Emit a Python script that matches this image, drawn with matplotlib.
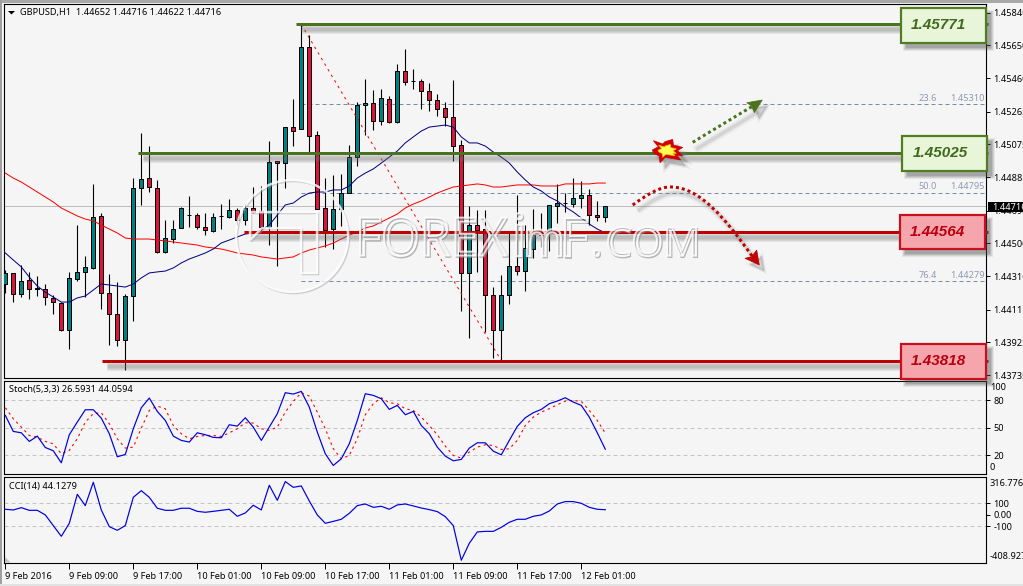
import matplotlib
matplotlib.use("Agg")
import matplotlib.pyplot as plt
from matplotlib.patches import Rectangle, Polygon, PathPatch, Circle
from matplotlib.path import Path
from matplotlib.textpath import TextPath
from matplotlib.font_manager import FontProperties
from matplotlib.transforms import Affine2D, offset_copy

# ---- hourly GBPUSD bars -------------------------------------------------
opens = [
    1.44264, 1.44328, 1.44206, 1.44287, 1.44241, 1.44235, 1.44183, 1.44154, 1.43997, 1.44293,
    1.44334, 1.44357, 1.44659, 1.44212, 1.44090, 1.43939, 1.44194, 1.44821, 1.44879, 1.44821,
    1.44450, 1.44525, 1.44589, 1.44664, 1.44664, 1.44595, 1.44572, 1.44659, 1.44653, 1.44694,
    1.44635, 1.44705, 1.44688, 1.44595, 1.44978, 1.44966, 1.45175, 1.45164, 1.45640, 1.45129,
    1.44705, 1.44583, 1.44699, 1.44792, 1.45001, 1.45303, 1.45315, 1.45210, 1.45338, 1.45205,
    1.45501, 1.45443, 1.45443, 1.45385, 1.45332, 1.45286, 1.45234, 1.45071, 1.44328, 1.44606,
    1.44583, 1.44200, 1.43997, 1.44200, 1.44368, 1.44339, 1.44467, 1.44548, 1.44560, 1.44717,
    1.44734, 1.44728, 1.44763, 1.44781, 1.44664, 1.44652,
]
highs = [
    1.44345, 1.44328, 1.44374, 1.44334, 1.44310, 1.44264, 1.44200, 1.44159, 1.44334, 1.44606,
    1.44426, 1.44845, 1.44676, 1.44322, 1.44276, 1.44206, 1.44879, 1.45141, 1.45065, 1.44868,
    1.44635, 1.44635, 1.44711, 1.44775, 1.44676, 1.44676, 1.44676, 1.44728, 1.44757, 1.44705,
    1.44728, 1.44827, 1.44833, 1.45094, 1.44978, 1.45175, 1.45338, 1.45768, 1.45710, 1.45152,
    1.44879, 1.44897, 1.44903, 1.45071, 1.45321, 1.45454, 1.45390, 1.45396, 1.45356, 1.45541,
    1.45628, 1.45512, 1.45454, 1.45431, 1.45367, 1.45321, 1.45448, 1.45100, 1.44717, 1.44694,
    1.44694, 1.44246, 1.44316, 1.44572, 1.44781, 1.44606, 1.44699, 1.44676, 1.44723, 1.44845,
    1.44792, 1.44879, 1.44862, 1.44816, 1.44746, 1.44716,
]
lows = [
    1.44212, 1.44159, 1.44188, 1.44177, 1.44194, 1.44142, 1.44090, 1.43991, 1.43887, 1.44281,
    1.44188, 1.44351, 1.44119, 1.43910, 1.43904, 1.43764, 1.44049, 1.44723, 1.44798, 1.44444,
    1.44444, 1.44502, 1.44589, 1.44595, 1.44583, 1.44548, 1.44566, 1.44583, 1.44647, 1.44606,
    1.44606, 1.44676, 1.44566, 1.44490, 1.44368, 1.44821, 1.45065, 1.45164, 1.45030, 1.44699,
    1.44479, 1.44467, 1.44601, 1.44792, 1.44949, 1.45129, 1.45158, 1.45187, 1.45199, 1.45199,
    1.45419, 1.45396, 1.45280, 1.45268, 1.45239, 1.45181, 1.44978, 1.44107, 1.43950, 1.44334,
    1.43985, 1.43834, 1.43811, 1.44148, 1.44316, 1.44223, 1.44415, 1.44479, 1.44456, 1.44618,
    1.44682, 1.44711, 1.44705, 1.44606, 1.44629, 1.44622,
]
closes = [
    1.44328, 1.44206, 1.44281, 1.44235, 1.44235, 1.44188, 1.44159, 1.43997, 1.44299, 1.44334,
    1.44363, 1.44653, 1.44212, 1.44090, 1.43939, 1.44194, 1.44821, 1.44874, 1.44827, 1.44450,
    1.44531, 1.44583, 1.44705, 1.44664, 1.44595, 1.44577, 1.44653, 1.44659, 1.44694, 1.44635,
    1.44705, 1.44682, 1.44595, 1.44972, 1.44966, 1.45175, 1.45152, 1.45640, 1.45123, 1.44699,
    1.44577, 1.44699, 1.44792, 1.45001, 1.45303, 1.45315, 1.45210, 1.45344, 1.45205, 1.45501,
    1.45437, 1.45443, 1.45385, 1.45332, 1.45280, 1.45234, 1.45065, 1.44328, 1.44606, 1.44577,
    1.44200, 1.43997, 1.44200, 1.44368, 1.44339, 1.44473, 1.44548, 1.44548, 1.44723, 1.44734,
    1.44734, 1.44763, 1.44781, 1.44664, 1.44653, 1.44716,
]

# moving averages on the price pane
ma_fast = [
    1.44444, 1.44403, 1.44363, 1.44304, 1.44252, 1.44217, 1.44188, 1.44159, 1.44159, 1.44183,
    1.44194, 1.44229, 1.44264, 1.44258, 1.44252, 1.44246, 1.44264, 1.44299, 1.44328, 1.44334,
    1.44339, 1.44357, 1.44386, 1.44409, 1.44426, 1.44444, 1.44467, 1.44502, 1.44519, 1.44537,
    1.44554, 1.44560, 1.44577, 1.44606, 1.44664, 1.44723, 1.44734, 1.44769, 1.44792, 1.44798,
    1.44798, 1.44810, 1.44810, 1.44833, 1.44879, 1.44908, 1.44932, 1.44966, 1.45001, 1.45036,
    1.45083, 1.45118, 1.45152, 1.45175, 1.45181, 1.45187, 1.45175, 1.45118, 1.45083, 1.45083,
    1.45065, 1.45030, 1.45001, 1.44966, 1.44914, 1.44868, 1.44827, 1.44804, 1.44769, 1.44746,
    1.44711, 1.44682, 1.44647, 1.44612, 1.44583, 1.44560,
]
ma_slow = [
    1.44908, 1.44879, 1.44856, 1.44827, 1.44798, 1.44769, 1.44740, 1.44705, 1.44682, 1.44659,
    1.44641, 1.44630, 1.44606, 1.44583, 1.44560, 1.44531, 1.44525, 1.44525, 1.44525, 1.44519,
    1.44514, 1.44508, 1.44502, 1.44496, 1.44490, 1.44479, 1.44473, 1.44467, 1.44456, 1.44444,
    1.44438, 1.44432, 1.44421, 1.44415, 1.44409, 1.44415, 1.44421, 1.44444, 1.44461, 1.44473,
    1.44485, 1.44502, 1.44525, 1.44548, 1.44566, 1.44589, 1.44601, 1.44624, 1.44647, 1.44670,
    1.44705, 1.44728, 1.44746, 1.44769, 1.44792, 1.44810, 1.44827, 1.44833, 1.44839, 1.44845,
    1.44839, 1.44827, 1.44827, 1.44833, 1.44839, 1.44839, 1.44839, 1.44833, 1.44833, 1.44833,
    1.44845, 1.44845, 1.44845, 1.44845, 1.44850, 1.44850,
]

# stochastic oscillator
stoch_main = [
    63.5, 46, 44.5, 35.1, 40.9, 28.5, 24.9, 11.8, 42.4, 56.2,
    69.6, 69.6, 60.5, 43.5, 18.4, 20.9, 48.9, 71.8, 82.4, 67.8,
    58, 40.9, 36.2, 34.4, 44.5, 42.4, 39.5, 39.1, 53.3, 51.8,
    60.9, 50.7, 36.2, 50.7, 65.3, 88.2, 86.7, 89.6, 72.5,
    45.3, 21.6, 8.9, 16.2, 32.5, 58, 87.1, 85.3, 81.6, 70,
    74.4, 64.2, 67.8, 52.5, 43.5, 28.9, 19.1, 14, 15.5, 27.8,
    33.6, 33.6, 24.5, 20.5, 36.2, 51.5, 60.9, 66.4, 70, 76.2,
    79.1, 82.7, 78, 74.4, 61.6, 44.5, 26.5931,
]
stoch_signal = [
    71.8, 59.8, 50.7, 41.6, 39.8, 35.1, 32.5, 21.6, 25.3, 38,
    56.2, 65.3, 66.4, 54.4, 38, 27.8, 28.9, 49.6, 68.9, 73.6,
    70.7, 52.5, 43.5, 38, 40.5, 41.6, 41.6, 40.5, 44.5, 48.9,
    55.5, 55.1, 48.9, 47.1, 50.7, 67.1, 78.7, 88.2, 84.5,
    67.1, 48.9, 27.1, 16.2, 19.8, 38, 64.2, 76.2, 82.7, 77.3,
    76.2, 70.7, 68.9, 61.6, 52.5, 42.4, 30, 19.8, 16.9, 23.5,
    28.9, 31.5, 30.7, 26.4, 27.1, 36.2, 52.5, 61.6, 67.1, 70.7,
    75.1, 79.1, 79.8, 78.7, 68.9, 58, 44.0594,
]

# commodity channel index
cci = [
    48, 42, 62, 39, 39, -1, -94, -187, -74, 178,
    80, 283, 42, -103, -135, -94, 152, 210, 152, 57,
    39, 39, 57, 57, 30, 22, 30, 39, 48, -13,
    16, 83, 42, 257, 126, 289, 239, 251, 120,
    -1, -74, -57, -39, 13, 80, 94, 65, 74, 48,
    86, 94, 77, 59, 45, 28, -16, -94, -395, -248,
    -149, -144, -144, -109, -65, -39, -39, -13, -1, 33,
    94, 115, 115, 100, 65, 48, 44.1279,
]

# support / resistance levels: (price, first bar of the line)
resistance_levels = [(1.45771, 36.3), (1.45025, 16.6)]
support_levels = [(1.44564, 29.8), (1.43818, 12.1)]

# fibonacci retracement drawn from the swing high to the swing low
swing_bars = [37, 62]
swing_prices = [1.45771, 1.43818]
fib_ratios = ["23.6", "50.0", "76.4"]
fib_prices = [1.45310, 1.44795, 1.44279]

price_ticks = [1.45840, 1.45650, 1.45460, 1.45265, 1.45075, 1.44885, 1.44690,
               1.44500, 1.44310, 1.44115, 1.43925, 1.43735]
last_price = 1.44716

date_bars = list(range(0, 73, 8))
date_labels = ["9 Feb 2016", "9 Feb 09:00", "9 Feb 17:00", "10 Feb 01:00", "10 Feb 09:00",
               "10 Feb 17:00", "11 Feb 01:00", "11 Feb 09:00", "11 Feb 17:00", "12 Feb 01:00"]

# ---- styling ------------------------------------------------------------
W, H = 1023, 586
BG = "#f5f5f5"
BULL = "#008080"
BEAR = "#dc143c"
GREEN = "#4a731f"
RED = "#c00000"
FIB = "#7c8ca8"
GRID = "#c4c4c4"
PX = 0.72  # one pixel in points at 100 dpi
UI_SIZE = 6.6

plt.rcParams["font.family"] = ["Noto Sans", "DejaVu Sans"]
plt.rcParams["font.size"] = UI_SIZE

fig = plt.figure(figsize=(W / 100, H / 100), dpi=100, facecolor=BG)


def pane(top, bottom, left=4.0, right=986.0):
    ax = fig.add_axes([left / W, 1 - bottom / H, (right - left) / W, (bottom - top) / H])
    ax.set_facecolor(BG)
    ax.set_xlim(-0.1625, 122.59)
    for s in ax.spines.values():
        s.set_linewidth(PX * 1.1)
        s.set_color("black")
    ax.yaxis.tick_right()
    ax.tick_params(axis="x", bottom=False, labelbottom=False)
    ax.tick_params(axis="y", length=3, width=PX, pad=2.5, labelsize=UI_SIZE, colors="black")
    return ax


bars = list(range(len(closes)))

# ---- price pane ---------------------------------------------------------
ax = pane(4, 378.3)
ax.set_ylim(1.437162, 1.458898)
ax.set_yticks(price_ticks)
ax.set_yticklabels([f"{p:.5f}" for p in price_ticks])

ax.axhline(last_price, color="#bdbdbd", lw=PX, zorder=1)
for price in fib_prices:
    ax.plot([swing_bars[0], 122.3], [price, price], color=FIB, lw=PX,
            ls=(0, (4, 3)), zorder=1.5)

for i, (o, h, l, c) in enumerate(zip(opens, highs, lows, closes)):
    ax.vlines(i, l, h, color="black", lw=PX * 1.1, zorder=2)
ax.bar(bars, [c - o for o, c in zip(opens, closes)], bottom=opens, width=0.52,
       color=[BULL if c > o else BEAR for o, c in zip(opens, closes)],
       edgecolor="black", linewidth=PX, zorder=3)

ax.plot(bars, ma_slow, color="#ff0000", lw=PX, zorder=4)
ax.plot(bars, ma_fast, color="#000080", lw=PX, zorder=4)
ax.plot(swing_bars, swing_prices, color="#ff0000", lw=PX, ls=(0, (2.5, 4)), zorder=4)

# level lines with a soft drop shadow underneath
shadow = offset_copy(ax.transData, fig=fig, x=5, y=-5, units="dots")
for levels, colour in ((resistance_levels, GREEN), (support_levels, RED)):
    for price, start in levels:
        for width in (9, 7, 5, 3):
            ax.plot([start, 122.4], [price, price], color="#6e6e6e", alpha=0.12,
                    lw=width * PX, transform=shadow, solid_capstyle="butt", zorder=5)
        ax.plot([start, 122.9], [price, price], color=colour, lw=3 * PX,
                solid_capstyle="butt", zorder=6, clip_on=False)

# ---- stochastic pane ----------------------------------------------------
ax_st = pane(380.5, 474)
ax_st.set_ylim(-0.4, 101.5)
ax_st.set_yticks([80, 50, 20])
ax_st.set_yticklabels(["80", "50", "20"])
for level in (80, 50, 20):
    ax_st.axhline(level, color=GRID, lw=PX, ls=(0, (4, 3)), zorder=1)
ax_st.plot(bars, stoch_signal, color="#ff0000", lw=PX * 1.1, ls=(0, (2.2, 3.2)), zorder=2)
ax_st.plot(bars, stoch_main, color="#0000e0", lw=PX * 1.2, zorder=3)

# ---- CCI pane -----------------------------------------------------------
ax_cc = pane(476.8, 563.3)
ax_cc.set_ylim(-421.7, 330.4)
ax_cc.set_yticks([100, 0, -100])
ax_cc.set_yticklabels(["100", "0.00", "-100"])
for level in (100, -100):
    ax_cc.axhline(level, color=GRID, lw=PX, ls=(0, (4, 3)), zorder=1)
ax_cc.plot(bars, cci, color="#0000e0", lw=PX * 1.2, zorder=3)
ax_cc.set_xticks(date_bars)
ax_cc.set_xticklabels(date_labels, ha="left")
ax_cc.tick_params(axis="x", bottom=True, labelbottom=True, length=4, width=PX, pad=2,
                  labelsize=UI_SIZE)

# ---- annotation layer in figure pixels ----------------------------------
deco = fig.add_axes([0, 0, 1, 1], zorder=10)
deco.set_xlim(0, W)
deco.set_ylim(H, 0)
deco.axis("off")
deco.patch.set_alpha(0)

# window edge
deco.add_patch(Rectangle((0, 0), W, 2.5, color="#a8a8a8", lw=0))
deco.add_patch(Rectangle((0, 0), 2, H, color="#a0a0a0", lw=0))
deco.add_patch(Rectangle((0, H - 2), W, 2, color="#e2e2e2", lw=0))


def stretched_text(word, x0, x1, y0, y1, dx=0.0, dy=0.0, **style):
    path = TextPath((0, 0), word, size=40, prop=FontProperties(family="Open Sans"))
    box = path.get_extents()
    sx = (x1 - x0) / box.width
    sy = (y1 - y0) / box.height
    tr = Affine2D().translate(-box.x0, -box.y0).scale(sx, -sy).translate(x0 + dx, y1 + dy)
    deco.add_patch(PathPatch(tr.transform_path(path), **style))


# watermark: roundel plus the site name, white with a grey edge
roundel = (292, 236)
for off, col, lw_px, a in ((1.5, "#9c9c9c", 1.6, 0.45), (0, "#ffffff", 2.4, 0.8)):
    deco.add_patch(Circle((roundel[0] + off, roundel[1] + off), 56, fill=False,
                          ec=col, lw=lw_px * PX, alpha=a))
    shape = [(250, 212), (317, 212), (317, 273), (301, 273), (301, 228), (262, 228), (250, 240)]
    deco.add_patch(Polygon([(x + off, y + off) for x, y in shape], closed=True, fill=False,
                           ec=col, lw=lw_px * PX, alpha=a))
watermark = [("FOREX", 360, 507, 217, 256), ("i", 516, 522, 213, 256), ("m", 527, 561, 229, 256),
             ("F", 565, 587, 218, 256), (".", 594, 599, 250, 256), ("COM", 608, 696, 227, 256)]
for word, x0, x1, y0, y1 in watermark:
    stretched_text(word, x0, x1, y0, y1, dx=1.2, dy=1.5, fc="none", ec="#8e8e8e",
                   lw=1.8 * PX, alpha=0.6)
    stretched_text(word, x0, x1, y0, y1, fc="none", ec="#ffffff", lw=2.0 * PX, alpha=0.8)

# arrows
green_tail = [(692.7, 142.3), (752, 106.5)]
green_head = [(762.3, 100), (746.7, 102.7), (751.7, 106), (754.3, 112.7)]
red_curve = Path(
    [(632.7, 205), (645, 196), (660, 186), (672, 187), (700, 188), (725, 218), (752, 256)],
    [Path.MOVETO, Path.CURVE4, Path.CURVE4, Path.CURVE4, Path.CURVE4, Path.CURVE4, Path.CURVE4],
)
red_head = [(759.3, 265), (745, 258.3), (751.7, 256.7), (756.7, 250)]


def offset_points(pts, dx, dy):
    return [(x + dx, y + dy) for x, y in pts]


for width, alpha in ((8, 0.06), (5, 0.09), (3, 0.12)):
    deco.plot(*zip(*offset_points(green_tail, 5, 6)), color="#707070", lw=width * PX, alpha=alpha)
    deco.add_patch(PathPatch(red_curve.transformed(Affine2D().translate(5, 6)), fc="none",
                             ec="#707070", lw=width * PX, alpha=alpha))
    deco.add_patch(Polygon(offset_points(green_head, 5, 6), fc="#707070", ec="#707070",
                           lw=width * PX * 0.5, alpha=alpha))
    deco.add_patch(Polygon(offset_points(red_head, 5, 6), fc="#707070", ec="#707070",
                           lw=width * PX * 0.5, alpha=alpha))
deco.plot(*zip(*green_tail), color=GREEN, lw=3 * PX, ls=(0, (1, 1)))
deco.add_patch(Polygon(green_head, fc=GREEN, ec=GREEN, lw=0.5))
deco.add_patch(PathPatch(red_curve, fc="none", ec=RED, lw=3 * PX, ls=(0, (1, 1))))
deco.add_patch(Polygon(red_head, fc=RED, ec=RED, lw=0.5))

# breakout burst on the resistance line
burst_centre = (666.7, 150.7)
burst = [(-14.3, -0.7), (-8.3, -4), (-13.3, -10), (-4, -6.7), (-1.7, -9), (6, -11.3), (6.7, -5.7),
         (16, -3.3), (10.7, 0), (16, 5.3), (10, 4.3), (14, 9.3), (5, 7.7), (-1.7, 6.7),
         (-6.7, 12), (-7.3, 5.3), (-13.3, 2)]
for grow, alpha in ((2, 0.1), (1, 0.12), (0, 0.16)):
    deco.add_patch(Polygon([(burst_centre[0] + x + 5, burst_centre[1] + y + 6) for x, y in burst],
                           fc="#707070", ec="#707070", lw=grow * 2 * PX, alpha=alpha))
deco.add_patch(Polygon([(burst_centre[0] + x, burst_centre[1] + y) for x, y in burst],
                       fc="#d40000", ec="#c00000", lw=0.5))
deco.add_patch(Polygon([(burst_centre[0] + 0.6 * x, burst_centre[1] + 0.55 * y) for x, y in burst],
                       fc="#ffff55", ec="#f5c000", lw=0.5))

# value boxes at the end of each level line
boxes = [
    ("1.45771", 901, 986, 8.3, 42.7, "#e8f5d9", "#4f7d22", "#3f6a1c", 938.5, 25.0),
    ("1.45025", 902, 986.7, 136, 171, "#e8f5d9", "#4f7d22", "#3f6a1c", 940, 152.7),
    ("1.44564", 900, 985, 215, 249.3, "#f5a6ad", "#c8101c", "#b8000f", 937.7, 232.3),
    ("1.43818", 901, 986, 344.3, 378.7, "#f5a6ad", "#c8101c", "#b8000f", 938.5, 361),
]
for label, x0, x1, y0, y1, fill, edge, ink, tx, ty in boxes:
    for grow, alpha in ((3, 0.1), (2, 0.13), (1, 0.16), (0, 0.2)):
        deco.add_patch(Rectangle((x0 + 5 - grow, y0 + 5 - grow), x1 - x0 + 2 * grow,
                                 y1 - y0 + 2 * grow, fc="#505050", ec="none", alpha=alpha))
    deco.add_patch(Rectangle((x0, y0), x1 - x0, y1 - y0, fc=fill, ec=edge, lw=2.2 * PX))
    deco.text(tx, ty, label, ha="center", va="center", color=ink, fontsize=11,
              family="Liberation Sans", style="italic", weight="bold")

# fibonacci level captions
for ratio, price, y in zip(fib_ratios, fib_prices, (98.7, 186.7, 275.3)):
    deco.text(937, y, ratio, ha="right", va="center", color="#8d9bb0", fontsize=UI_SIZE)
    deco.text(985, y, f"{price:.5f}", ha="right", va="center", color="#8d9bb0", fontsize=UI_SIZE)

# last-price flag on the scale
deco.add_patch(Rectangle((987.7, 202.3), 36, 9.6, fc="black", ec="none"))
deco.text(992, 207, f"{last_price:.5f}", ha="left", va="center", color="white", fontsize=UI_SIZE)

# pane captions
deco.add_patch(Polygon([(8, 11), (15, 11), (11.5, 14.5)], fc="black", ec="none"))
deco.text(20, 12.7, "GBPUSD,H1  1.44652 1.44716 1.44622 1.44716", ha="left", va="center",
          color="black", fontsize=UI_SIZE)
deco.text(9, 389.7, "Stoch(5,3,3) 26.5931 44.0594", ha="left", va="center", color="black",
          fontsize=UI_SIZE)
deco.text(9, 486, "CCI(14) 44.1279", ha="left", va="center", color="black", fontsize=UI_SIZE)

# scale extremes, nudged inside their panes
deco.text(990, 387.3, "100", ha="left", va="center", color="black", fontsize=UI_SIZE)
deco.text(990, 467.3, "0", ha="left", va="center", color="black", fontsize=UI_SIZE)
deco.text(990, 483.3, "316.776", ha="left", va="center", color="black", fontsize=UI_SIZE)
deco.text(990, 556.7, "-408.927", ha="left", va="center", color="black", fontsize=UI_SIZE)

# resize grip in the corner of the lower pane
deco.add_patch(Polygon([(5, 557), (10.5, 562.5), (5, 562.5)], fc="#c0c0c0", ec="none"))

fig.savefig("out.png", dpi=100, facecolor=BG)
